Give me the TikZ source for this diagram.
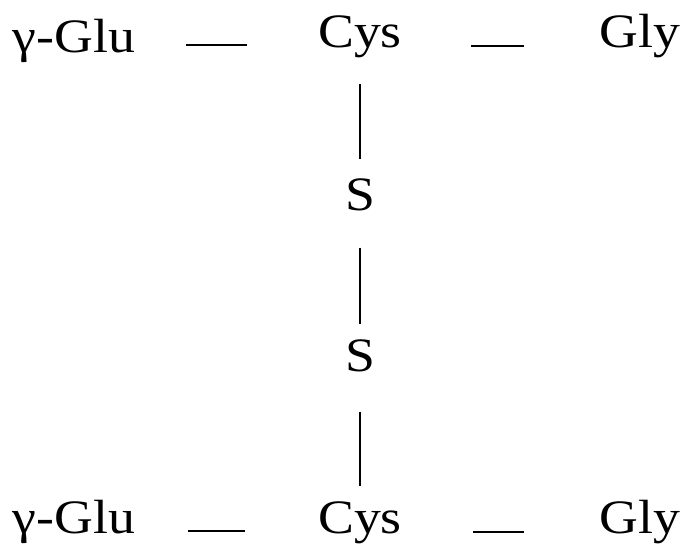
\documentclass[tikz,border=0pt]{standalone}
\usepackage{fontspec}
\setmainfont{Liberation Serif}[FakeStretch=1.12]
\begin{document}
\begin{tikzpicture}[x=1pt,y=-1pt,
  res/.style={inner sep=0pt,anchor=base,font=\fontsize{48}{48}\selectfont},
  bond/.style={line width=1.6pt},
  sbond/.style={line width=1.2pt}]
\useasboundingbox (0,0) rectangle (692,549);
% top chain
\node[res] (glu1) at (74,52) {γ-Glu};
\node[res] (cys1) at (360,47) {Cys};
\node[res] (gly1) at (640,47) {Gly};
% disulfide bridge
\node[res] (s1) at (360,210) {S};
\node[res] (s2) at (360,371) {S};
% bottom chain
\node[res] (glu2) at (74,533) {γ-Glu};
\node[res] (cys2) at (360,533) {Cys};
\node[res] (gly2) at (640,533) {Gly};
\draw[bond,shorten <=51pt,shorten >=71pt] ([yshift=7pt]glu1.base east) -- ([yshift=2pt]cys1.base west);
\draw[bond,shorten <=69pt,shorten >=75pt] ([yshift=1pt]cys1.base east) -- ([yshift=1pt]gly1.base west);
\draw[bond,shorten <=53pt,shorten >=73pt] ([yshift=2pt]glu2.base east) -- ([yshift=2pt]cys2.base west);
\draw[bond,shorten <=71pt,shorten >=75pt] ([yshift=1pt]cys2.base east) -- ([yshift=1pt]gly2.base west);
\draw[sbond,shorten <=26.5pt,shorten >=19.5pt] (cys1.south) -- (s1.north);
\draw[sbond,shorten <=37pt,shorten >=15.5pt] (s1.south) -- (s2.north);
\draw[sbond,shorten <=40pt,shorten >=15.5pt] (s2.south) -- (cys2.north);
\end{tikzpicture}
\end{document}
